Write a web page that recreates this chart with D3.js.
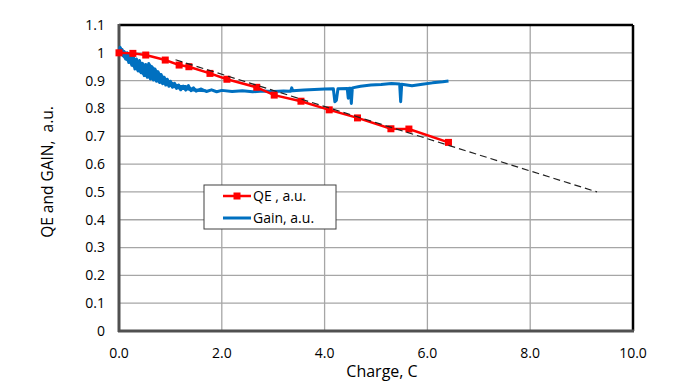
<!DOCTYPE html>
<html>
<head>
<meta charset="utf-8">
<script src="https://cdn.jsdelivr.net/npm/d3@7"></script>
<style>
  body { margin: 0; background: #fff; }
  text { font-family: "Open Sans", sans-serif; fill: #000; }
</style>
</head>
<body>
<div class="chart"></div>
<script>
// QE measurements (red squares)
var qeCharge = [0, 0.27, 0.52, 0.90, 1.17, 1.36, 1.77, 2.10, 2.68, 3.02, 3.54, 4.09, 4.64, 5.29, 5.64, 6.41];
var qeValue = [1.000, 0.998, 0.992, 0.974, 0.956, 0.950, 0.926, 0.905, 0.876, 0.848, 0.826, 0.795, 0.766, 0.727, 0.726, 0.678];

// Gain trace (blue), noisy at the start
var gainCharge = [0.00, 0.02, 0.04, 0.06, 0.08, 0.10, 0.13, 0.16, 0.19, 0.22, 0.25, 0.28, 0.31, 0.34, 0.37, 0.40,
  0.43, 0.46, 0.49, 0.52, 0.55, 0.58, 0.61, 0.64, 0.67, 0.70, 0.73, 0.76, 0.79, 0.82, 0.85, 0.88, 0.91, 0.94, 0.97,
  1.00, 1.04, 1.08, 1.12, 1.16, 1.20, 1.25, 1.30, 1.35, 1.40, 1.45, 1.50, 1.60, 1.70, 1.80, 1.90, 2.00, 2.20, 2.40,
  2.60, 2.80, 3.00, 3.20, 3.34, 3.36, 3.38, 3.60, 3.80, 4.00, 4.17, 4.20, 4.23, 4.26, 4.44, 4.46, 4.48, 4.50, 4.52,
  4.54, 4.70, 4.90, 5.10, 5.30, 5.46, 5.48, 5.50, 5.70, 5.90, 6.10, 6.30, 6.41];
var gainValue = [1.000, 1.020, 0.995, 1.012, 0.990, 1.005, 0.978, 1.000, 0.965, 0.992, 0.955, 0.985, 0.942, 0.978, 0.935, 0.972,
  0.928, 0.962, 0.918, 0.958, 0.912, 0.962, 0.906, 0.950, 0.902, 0.942, 0.898, 0.932, 0.893, 0.922, 0.889, 0.912, 0.884, 0.905, 0.880,
  0.898, 0.876, 0.890, 0.872, 0.884, 0.867, 0.880, 0.866, 0.882, 0.864, 0.874, 0.862, 0.870, 0.861, 0.867, 0.860, 0.865, 0.861, 0.864,
  0.860, 0.863, 0.861, 0.863, 0.862, 0.874, 0.864, 0.866, 0.868, 0.870, 0.871, 0.824, 0.830, 0.871, 0.872, 0.837, 0.873, 0.873, 0.818,
  0.874, 0.880, 0.884, 0.886, 0.890, 0.888, 0.824, 0.887, 0.882, 0.887, 0.892, 0.896, 0.899];

// spread of the noisy gain band at low charge
var bandCharge = [0, 0.04, 0.1, 0.2, 0.3, 0.4, 0.5, 0.6, 0.7, 0.8, 0.9, 1.0, 1.1, 1.2, 1.3, 1.4, 1.5, 1.7];
var bandUpper = [1.005, 1.022, 1.008, 0.995, 0.982, 0.972, 0.960, 0.962, 0.945, 0.928, 0.912, 0.900, 0.890, 0.884, 0.884, 0.876, 0.872, 0.868];
var bandLower = [0.993, 0.990, 0.978, 0.962, 0.942, 0.928, 0.915, 0.906, 0.898, 0.890, 0.884, 0.877, 0.872, 0.866, 0.866, 0.862, 0.860, 0.858];

// linear trend (dashed)
var trendCharge = [1.1, 9.3];
var trendValue = [0.975, 0.50];

var xTicks = [0, 2, 4, 6, 8, 10];
var xTickLabels = ["0.0", "2.0", "4.0", "6.0", "8.0", "10.0"];
var yTicks = [0, 0.1, 0.2, 0.3, 0.4, 0.5, 0.6, 0.7, 0.8, 0.9, 1, 1.1];
var yTickLabels = ["0", "0.1", "0.2", "0.3", "0.4", "0.5", "0.6", "0.7", "0.8", "0.9", "1", "1.1"];

var seriesNames = ["QE , a.u.", "Gain, a.u."];

(function() {
  var width = 673,
    height = 388,
    margin = {top: 25, left: 119, right: 40, bottom: 57};

  var svg = d3.select(".chart").append("svg")
    .attr("width", width)
    .attr("height", height);

  var x = d3.scaleLinear().domain([0, 10]).range([margin.left, width - margin.right]);
  var y = d3.scaleLinear().domain([0, 1.1]).range([height - margin.bottom, margin.top]);

  // grid
  svg.append("g").selectAll("line")
    .data(xTicks.slice(1, -1))
    .enter().append("line")
      .attr("x1", function(d) { return x(d); })
      .attr("x2", function(d) { return x(d); })
      .attr("y1", y(0))
      .attr("y2", y(1.1))
      .attr("stroke", "#a6a6a6")
      .attr("stroke-width", 1.3);
  svg.append("g").selectAll("line")
    .data(yTicks.slice(1, -1))
    .enter().append("line")
      .attr("x1", x(0))
      .attr("x2", x(10))
      .attr("y1", function(d) { return y(d); })
      .attr("y2", function(d) { return y(d); })
      .attr("stroke", "#a6a6a6")
      .attr("stroke-width", 1.3);

  // frame
  svg.append("line").attr("x1", x(0)).attr("x2", x(10)).attr("y1", y(1.1)).attr("y2", y(1.1))
    .attr("stroke", "#000").attr("stroke-width", 2.5);
  svg.append("line").attr("x1", x(10)).attr("x2", x(10)).attr("y1", y(1.1)).attr("y2", y(0))
    .attr("stroke", "#000").attr("stroke-width", 2.5);
  svg.append("line").attr("x1", x(0)).attr("x2", x(0)).attr("y1", y(1.1) - 1).attr("y2", y(0) + 1)
    .attr("stroke", "#505050").attr("stroke-width", 3);
  svg.append("line").attr("x1", x(0) - 1).attr("x2", x(10) + 1).attr("y1", y(0)).attr("y2", y(0))
    .attr("stroke", "#505050").attr("stroke-width", 3);

  // tick labels
  svg.append("g").selectAll("text")
    .data(yTicks)
    .enter().append("text")
      .attr("x", 105)
      .attr("y", function(d) { return y(d); })
      .attr("dy", ".35em")
      .style("text-anchor", "end")
      .style("font-size", "14px")
      .text(function(d, i) { return yTickLabels[i]; });
  svg.append("g").selectAll("text")
    .data(xTicks)
    .enter().append("text")
      .attr("x", function(d) { return x(d); })
      .attr("y", 358)
      .style("text-anchor", "middle")
      .style("font-size", "14px")
      .text(function(d, i) { return xTickLabels[i]; });

  // axis titles
  svg.append("text")
    .attr("x", 382)
    .attr("y", 377)
    .style("text-anchor", "middle")
    .style("font-size", "16px")
    .text("Charge, C");
  svg.append("text")
    .attr("transform", "translate(53,172) rotate(-90)")
    .style("text-anchor", "middle")
    .style("font-size", "15.5px")
    .style("white-space", "pre")
    .attr("xml:space", "preserve")
    .text("QE and GAIN,  a.u.");

  var line = d3.line()
    .x(function(d) { return x(d[0]); })
    .y(function(d) { return y(d[1]); });

  var band = d3.area()
    .x(function(d) { return x(d[0]); })
    .y0(function(d) { return y(d[2]); })
    .y1(function(d) { return y(d[1]); });

  var gain = gainCharge.map(function(c, i) { return [c, gainValue[i]]; });
  var spread = bandCharge.map(function(c, i) { return [c, bandUpper[i], bandLower[i]]; });
  var qe = qeCharge.map(function(c, i) { return [c, qeValue[i]]; });
  var trend = trendCharge.map(function(c, i) { return [c, trendValue[i]]; });

  svg.append("path")
    .attr("d", band(spread))
    .attr("fill", "#0070c0");

  svg.append("path")
    .attr("d", line(gain))
    .attr("fill", "none")
    .attr("stroke", "#0070c0")
    .attr("stroke-width", 3)
    .attr("stroke-linejoin", "round");

  svg.append("path")
    .attr("d", line(qe))
    .attr("fill", "none")
    .attr("stroke", "#ff0000")
    .attr("stroke-width", 2.5);

  svg.append("g").selectAll("rect")
    .data(qe)
    .enter().append("rect")
      .attr("x", function(d) { return x(d[0]) - 3.5; })
      .attr("y", function(d) { return y(d[1]) - 3.5; })
      .attr("width", 7)
      .attr("height", 7)
      .attr("fill", "#ff0000");

  svg.append("path")
    .attr("d", line(trend))
    .attr("fill", "none")
    .attr("stroke", "#222")
    .attr("stroke-width", 1.2)
    .attr("stroke-dasharray", "7,4");

  // legend
  var lg = svg.append("g").attr("transform", "translate(204,185)");
  lg.append("rect")
    .attr("width", 132)
    .attr("height", 44)
    .attr("fill", "#fff")
    .attr("stroke", "#404040")
    .attr("stroke-width", 1);
  lg.append("line").attr("x1", 19).attr("x2", 47).attr("y1", 11).attr("y2", 11)
    .attr("stroke", "#ff0000").attr("stroke-width", 2.5);
  lg.append("rect").attr("x", 29.5).attr("y", 7.5).attr("width", 7).attr("height", 7).attr("fill", "#ff0000");
  lg.append("line").attr("x1", 19).attr("x2", 47).attr("y1", 33).attr("y2", 33)
    .attr("stroke", "#0070c0").attr("stroke-width", 3);
  lg.selectAll("text.name")
    .data(seriesNames)
    .enter().append("text")
      .attr("class", "name")
      .attr("x", 49)
      .attr("y", function(d, i) { return 11 + i * 22; })
      .attr("dy", ".35em")
      .style("font-size", "14px")
      .text(function(d) { return d; });
})();
</script>
</body>
</html>
